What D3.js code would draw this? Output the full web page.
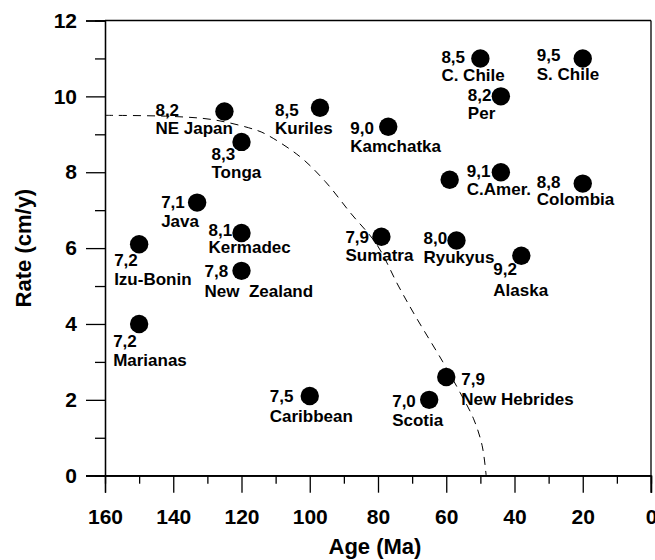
<!DOCTYPE html>
<html>
<head>
<meta charset="utf-8">
<script src="https://cdn.jsdelivr.net/npm/d3@7"></script>
<style>
   body { margin: 0; background: #fff; }
   svg { display: block; font-family: "Liberation Sans", Arial, sans-serif; font-weight: bold; }
</style>
</head>
<body>
<div id="chart"></div>
<script>
// Subduction zones: plate age vs convergence rate, labelled with max magnitude
const zones = ["NE Japan", "Tonga", "Kuriles", "Java", "Kermadec", "Izu-Bonin", "New  Zealand",
   "Marianas", "Caribbean", "Scotia", "New Hebrides", "Sumatra", "Ryukyus", "Alaska", "",
   "C.Amer.", "Colombia", "Kamchatka", "C. Chile", "Per", "S. Chile"];
const ages = [125, 120, 97, 133, 120, 150, 120, 150, 100, 65, 60, 79, 57, 38, 59, 44, 20, 77, 50, 44, 20];
const rates = [9.6, 8.8, 9.7, 7.2, 6.4, 6.1, 5.4, 4.0, 2.1, 2.0, 2.6, 6.3, 6.2, 5.8, 7.8, 8.0, 7.7, 9.2, 11, 10, 11];
const magnitudes = [8.2, 8.3, 8.5, 7.1, 8.1, 7.2, 7.8, 7.2, 7.5, 7.0, 7.9, 7.9, 8.0, 9.2, null, 9.1, 8.8, 9.0, 8.5, 8.2, 9.5];

// Dashed boundary curve (age, rate)
const curveAges = [160, 140, 128, 116, 112.6, 103, 95.5, 88, 80.4, 74, 69, 61, 56, 52, 49.5, 48.3];
const curveRates = [9.5, 9.47, 9.38, 9.12, 8.99, 8.42, 7.76, 6.92, 6.1, 5.0, 4.2, 3.0, 2.2, 1.5, 0.8, 0];

const xTicks = [160, 140, 120, 100, 80, 60, 40, 20, 0];
const yTicks = [0, 2, 4, 6, 8, 10, 12];

// label placement relative to the dot: [dx, dy of magnitude, dy of name] (pixels)
const labelOffsets = {
   "NE Japan": [-69, 4, 22],
   "Tonga": [-30, 18, 36],
   "Kuriles": [-45, 8, 26],
   "Java": [-36, 5, 24],
   "Kermadec": [-33, 3, 20],
   "Izu-Bonin": [-25, 22, 41],
   "New  Zealand": [-37, 6, 26],
   "Marianas": [-26, 23, 42],
   "Caribbean": [-40, 6, 26],
   "Scotia": [-37, 7, 26],
   "New Hebrides": [15, 8, 28],
   "Sumatra": [-36, 6, 24],
   "Ryukyus": [-33, 3, 22],
   "Alaska": [-28, 19, 40],
   "C.Amer.": [-34, 5, 23],
   "Colombia": [-46, 4, 21],
   "Kamchatka": [-38, 7, 25],
   "C. Chile": [-39, 5, 23],
   "Per": [-33, 5, 23],
   "S. Chile": [-46, 3, 22],
};

const width = 655, height = 560;
const plotLeft = 105, plotRight = 651, plotTop = 20.5, plotBottom = 475.7;

const x = d3.scaleLinear().domain([160, 0]).range([plotLeft, plotRight]);
const y = d3.scaleLinear().domain([0, 12]).range([plotBottom, plotTop]);
const fmt = d3.formatLocale({ decimal: ",", thousands: ".", grouping: [3], currency: ["", ""] }).format(".1f");

const svg = d3.select("#chart").append("svg")
   .attr("width", width)
   .attr("height", height);

// Frame
const frame = svg.append("g").attr("stroke", "#000").attr("stroke-width", 1.3).attr("fill", "none");
frame.append("line").attr("x1", plotLeft).attr("x2", plotRight).attr("y1", plotTop).attr("y2", plotTop);
frame.append("line").attr("x1", plotRight).attr("x2", plotRight).attr("y1", plotTop).attr("y2", plotBottom);

// Y axis
const yMinor = svg.append("g").attr("transform", `translate(${plotLeft},0)`)
   .call(d3.axisLeft(y).tickValues(d3.range(1, 12, 2)).tickSize(10).tickFormat(""));
const yAxis = svg.append("g").attr("transform", `translate(${plotLeft},0)`)
   .call(d3.axisLeft(y).tickValues(yTicks).tickSize(19).tickPadding(9));

// X axis
const xMinor = svg.append("g").attr("transform", `translate(0,${plotBottom})`)
   .call(d3.axisBottom(x).tickValues(d3.range(150, 0, -20)).tickSize(8).tickFormat(""));
const xAxis = svg.append("g").attr("transform", `translate(0,${plotBottom})`)
   .call(d3.axisBottom(x).tickValues(xTicks).tickSize(17).tickPadding(16));

[yMinor, yAxis, xMinor, xAxis].forEach(g => {
   g.select(".domain").attr("stroke-width", 1.3);
   g.selectAll(".tick line").attr("stroke-width", 1.3);
   g.selectAll(".tick text")
      .attr("font-family", "'Liberation Sans', Arial, sans-serif")
      .attr("font-weight", "bold")
      .attr("font-size", 21)
      .attr("fill", "#000");
});
// extend bottom axis line out to the 0 ticks
svg.append("line").attr("x1", plotLeft - 19).attr("x2", plotRight).attr("y1", plotBottom).attr("y2", plotBottom)
   .attr("stroke", "#000").attr("stroke-width", 1.3);
svg.append("line").attr("x1", plotRight).attr("x2", plotRight).attr("y1", plotBottom).attr("y2", plotBottom + 17)
   .attr("stroke", "#000").attr("stroke-width", 1.3);

// Axis titles
svg.append("text")
   .attr("x", (plotLeft + plotRight) / 2 - 3)
   .attr("y", 554)
   .attr("text-anchor", "middle")
   .attr("font-size", 22)
   .text("Age (Ma)");

svg.append("text")
   .attr("transform", `translate(31,${(plotTop + plotBottom) / 2}) rotate(-90)`)
   .attr("text-anchor", "middle")
   .attr("font-size", 22)
   .text("Rate (cm/y)");

// Dashed curve
const curveData = curveAges.map((a, i) => [a, curveRates[i]]);
svg.append("path")
   .datum(curveData)
   .attr("fill", "none")
   .attr("stroke", "#000")
   .attr("stroke-width", 1)
   .attr("stroke-dasharray", "8,6")
   .attr("d", d3.line().x(d => x(d[0])).y(d => y(d[1])).curve(d3.curveCatmullRom));

// Points
const points = zones.map((name, i) => ({ name, age: ages[i], rate: rates[i], mag: magnitudes[i] }));

svg.append("g")
   .selectAll("circle")
   .data(points)
   .join("circle")
   .attr("cx", d => x(d.age))
   .attr("cy", d => y(d.rate))
   .attr("r", 9.2)
   .attr("fill", "#000");

// Labels
const labels = svg.append("g").attr("font-size", 17).attr("fill", "#000");
points.filter(d => d.name).forEach(d => {
   const [dx, dyMag, dyName] = labelOffsets[d.name];
   labels.append("text")
      .attr("x", x(d.age) + dx)
      .attr("y", y(d.rate) + dyMag)
      .text(fmt(d.mag));
   labels.append("text")
      .attr("x", x(d.age) + dx)
      .attr("y", y(d.rate) + dyName)
      .attr("xml:space", "preserve")
      .style("white-space", "pre")
      .text(d.name);
});
</script>
</body>
</html>
